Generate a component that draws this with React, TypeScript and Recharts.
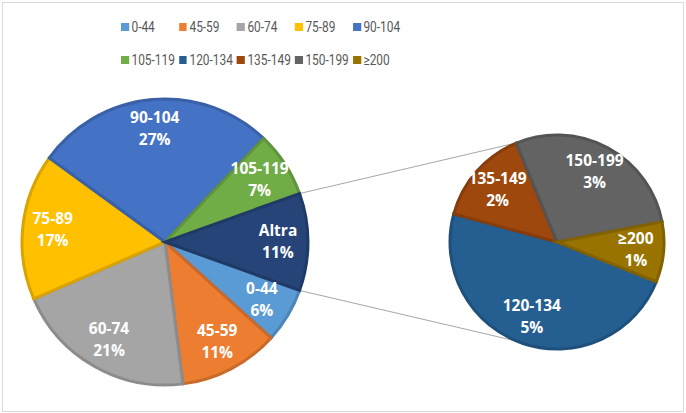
import React from 'react';
import { PieChart, Pie, Cell, Customized } from 'recharts';

// fasce della torta principale (in % sul totale)
const mainCategories = ['0-44', '45-59', '60-74', '75-89', '90-104', '105-119'];
const mainValues = [6.2, 11.3, 20.5, 16.5, 27.1, 7.4];

// fasce raggruppate nella fetta "Altra" e mostrate nella torta secondaria
const otherLabel = 'Altra';
const otherCategories = ['120-134', '135-149', '150-199', '≥200'];
const otherValues = [5.3, 1.6, 3.1, 1.0];

// legenda su due righe, come nell'originale
const legendRows = [
  ['0-44', '45-59', '60-74', '75-89', '90-104'],
  ['105-119', '120-134', '135-149', '150-199', '≥200'],
];

const colors: Record<string, string> = {
  '0-44': '#5B9BD5',
  '45-59': '#ED7D31',
  '60-74': '#A5A5A5',
  '75-89': '#FFC000',
  '90-104': '#4472C4',
  '105-119': '#70AD47',
  '120-134': '#255E91',
  '135-149': '#9E480E',
  '150-199': '#636363',
  '≥200': '#997300',
  Altra: '#264478',
};

const sum = (arr: number[]) => arr.reduce((a, b) => a + b, 0);
const altraValue = sum(otherValues);
const total = sum(mainValues) + altraValue;

const mainData = [
  ...mainCategories.map((name, i) => ({ name, value: mainValues[i] })),
  { name: otherLabel, value: altraValue },
];
const otherData = otherCategories.map((name, i) => ({ name, value: otherValues[i] }));

// geometria delle due torte
const MAIN = { cx: 165, cy: 242, r: 143 };
const SEC = { cx: 557, cy: 242, r: 107 };
const SEC_START = 338.2;
const CONNECT_ANGLE = 112;
const RAD = Math.PI / 180;
const altraHalf = (altraValue / total) * 180;

// la legenda originale è un po' stretta in orizzontale
const LEGEND_SQUEEZE = 0.82;

// scurisce un colore per il bordo delle fette
const shade = (hex: string, f = 0.85) => {
  const n = parseInt(hex.slice(1), 16);
  const r = Math.round(((n >> 16) & 255) * f);
  const g = Math.round(((n >> 8) & 255) * f);
  const b = Math.round((n & 255) * f);
  return `rgb(${r},${g},${b})`;
};

const makeLabel = (factor: number) => (props: any) => {
  const { cx, cy, midAngle, outerRadius, value } = props;
  const name = props.name ?? props.payload?.name;
  const r = outerRadius * factor;
  const x = cx + r * Math.cos(-midAngle * RAD);
  const y = cy + r * Math.sin(-midAngle * RAD);
  const pct = Math.round((value / total) * 100);
  return (
    <text
      x={x}
      y={y - 6}
      textAnchor="middle"
      fill="#fff"
      fontFamily="'Open Sans', sans-serif"
      fontWeight="bold"
      fontSize={15.5}
    >
      <tspan x={x}>{name}</tspan>
      <tspan x={x} dy={22}>{`${pct}%`}</tspan>
    </text>
  );
};

// linee di collegamento tra la fetta "Altra" e la torta secondaria
const Connectors = () => {
  const a = altraHalf * RAD;
  const b = CONNECT_ANGLE * RAD;
  const px = MAIN.cx + MAIN.r * Math.cos(a);
  const qx = SEC.cx + SEC.r * Math.cos(b);
  return (
    <g stroke="#a6a6a6" strokeWidth={1}>
      <line x1={px} y1={MAIN.cy - MAIN.r * Math.sin(a)} x2={qx} y2={SEC.cy - SEC.r * Math.sin(b)} />
      <line x1={px} y1={MAIN.cy + MAIN.r * Math.sin(a)} x2={qx} y2={SEC.cy + SEC.r * Math.sin(b)} />
    </g>
  );
};

const Legenda = () => (
  <div
    style={{
      position: 'absolute',
      left: 121,
      top: 18,
      transform: `scaleX(${LEGEND_SQUEEZE})`,
      transformOrigin: 'left top',
      fontFamily: 'Roboto, sans-serif',
      fontSize: 14.5,
      color: '#595959',
    }}
  >
    {legendRows.map((row, ri) => (
      <div key={ri} style={{ display: 'flex', height: 18, marginBottom: ri === 0 ? 15 : 0 }}>
        {row.map((name) => (
          <div key={name} style={{ width: 58 / LEGEND_SQUEEZE, display: 'flex', alignItems: 'center' }}>
            <span
              style={{ width: 8 / LEGEND_SQUEEZE, height: 8, background: colors[name], marginRight: 3, flexShrink: 0 }}
            />
            <span style={{ whiteSpace: 'nowrap' }}>{name}</span>
          </div>
        ))}
      </div>
    ))}
  </div>
);

export default function App() {
  return (
    <div style={{ position: 'absolute', left: 0, top: 0, width: 686, height: 413, background: '#fff' }}>
      <div style={{ position: 'absolute', left: 2, top: 2, width: 680, height: 408, border: '1px solid #d9d9d9' }} />
      <Legenda />
      <div style={{ position: 'absolute', left: 0, top: 0 }}>
        <PieChart width={686} height={413} margin={{ top: 0, right: 0, bottom: 0, left: 0 }}>
          <Customized component={<Connectors />} />
          <Pie
            data={mainData}
            dataKey="value"
            nameKey="name"
            cx={MAIN.cx}
            cy={MAIN.cy}
            outerRadius={MAIN.r}
            startAngle={-altraHalf}
            endAngle={-altraHalf - 360}
            label={makeLabel(0.79)}
            labelLine={false}
            isAnimationActive={false}
          >
            {mainData.map((d) => (
              <Cell key={d.name} fill={colors[d.name]} stroke={shade(colors[d.name])} strokeWidth={3} />
            ))}
          </Pie>
          <Pie
            data={otherData}
            dataKey="value"
            nameKey="name"
            cx={SEC.cx}
            cy={SEC.cy}
            outerRadius={SEC.r}
            startAngle={SEC_START}
            endAngle={SEC_START - 360}
            label={makeLabel(0.74)}
            labelLine={false}
            isAnimationActive={false}
          >
            {otherData.map((d) => (
              <Cell key={d.name} fill={colors[d.name]} stroke={shade(colors[d.name])} strokeWidth={3} />
            ))}
          </Pie>
        </PieChart>
      </div>
    </div>
  );
}
